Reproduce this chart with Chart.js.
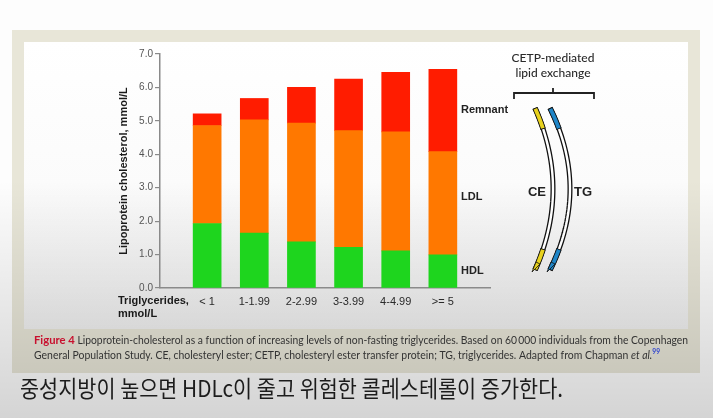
<!DOCTYPE html>
<html><head><meta charset="utf-8">
<script src="https://cdn.jsdelivr.net/npm/chart.js@4.4.1/dist/chart.umd.min.js"></script>
<style>
html,body{margin:0;padding:0;width:713px;height:418px;overflow:hidden;background:#fff}
canvas{display:block}
</style></head>
<body>
<canvas id="c" width="713" height="418"></canvas>
<script>
// ---- data ----
const categories = ['', '< 1', '1-1.99', '2-2.99', '3-3.99', '4-4.99', '>= 5', ''];
const hdlValues = [null, 1.93, 1.64, 1.38, 1.22, 1.11, 0.99, null];
const ldlValues = [null, 2.93, 3.39, 3.55, 3.49, 3.56, 3.09, null];
const remnantValues = [null, 0.35, 0.64, 1.07, 1.54, 1.78, 2.46, null];
const seriesNames = ['HDL', 'LDL', 'Remnant'];
const yAxisTitle = 'Lipoprotein cholesterol, mmol/L';
const xAxisTitle = ['Triglycerides,', 'mmol/L'];
const cetpTitle = ['CETP-mediated', 'lipid exchange'];
const arcLabels = ['CE', 'TG'];
const captionLine1 = ['Figure 4', ' Lipoprotein-cholesterol as a function of increasing levels of non-fasting triglycerides. Based on 60\u2009000 individuals from the Copenhagen'];
const captionLine2 = ['General Population Study. CE, cholesteryl ester; CETP, cholesteryl ester transfer protein; TG, triglycerides. Adapted from Chapman ', 'et al.', '99'];
const subtitle = '중성지방이 높으면 HDLc이 줄고 위험한 콜레스테롤이 증가한다.';

const colors = { HDL: '#1ed51e', LDL: '#ff7800', Remnant: '#ff1c00' };

function drawRuns(ctx, runs, x, y, targetW) {
  let total = 0;
  runs.forEach(r => { ctx.font = r.font; total += ctx.measureText(r.text).width; });
  const sx = targetW / total;
  ctx.save();
  ctx.translate(x, y);
  ctx.scale(sx, 1);
  let cx = 0;
  runs.forEach(r => {
    ctx.font = r.font; ctx.fillStyle = r.color;
    ctx.fillText(r.text, cx, r.dy || 0);
    cx += ctx.measureText(r.text).width;
  });
  ctx.restore();
}

function bez(p0, c, p1, t) {
  const u = 1 - t;
  return [u*u*p0[0] + 2*u*t*c[0] + t*t*p1[0], u*u*p0[1] + 2*u*t*c[1] + t*t*p1[1]];
}
function strokeBez(ctx, p0, c, p1, t0, t1, w, col) {
  ctx.beginPath();
  for (let i = 0; i <= 40; i++) {
    const t = t0 + (t1 - t0) * i / 40;
    const p = bez(p0, c, p1, t);
    if (i === 0) ctx.moveTo(p[0], p[1]); else ctx.lineTo(p[0], p[1]);
  }
  ctx.lineWidth = w; ctx.strokeStyle = col; ctx.lineCap = 'butt'; ctx.stroke();
}

const bgPlugin = {
  id: 'bg',
  beforeDraw(chart) {
    const ctx = chart.ctx;
    ctx.save();
    ctx.fillStyle = '#fdfdfd';
    ctx.fillRect(0, 0, 713, 418);
    ctx.fillStyle = '#e8e6d8';
    ctx.fillRect(12, 30, 688, 343);
    const g = ctx.createLinearGradient(0, 42, 0, 329);
    g.addColorStop(0, '#ffffff'); g.addColorStop(0.5, '#fbfbfb'); g.addColorStop(1, '#f0f0f0');
    ctx.fillStyle = g;
    ctx.fillRect(24, 42, 664, 287);
    const o = ctx.createLinearGradient(0, 180, 0, 418);
    o.addColorStop(0, 'rgba(0,0,0,0)'); o.addColorStop(1, 'rgba(0,0,0,0.16)');
    ctx.fillStyle = o;
    ctx.fillRect(0, 180, 713, 238);
    ctx.restore();
  },
  afterDraw(chart) {
    const ctx = chart.ctx;
    ctx.save();
    ctx.textBaseline = 'middle';
    // series labels at right
    ctx.fillStyle = '#222';
    ctx.font = 'bold 11px "Liberation Sans", Arial, sans-serif';
    ctx.textAlign = 'left';
    ctx.fillText(seriesNames[2], 461, 110);
    ctx.fillText(seriesNames[1], 461, 197);
    ctx.fillText(seriesNames[0], 461, 271);
    // x axis title
    ctx.fillStyle = '#1a1a1a';
    ctx.font = 'bold 11px "Liberation Sans", Arial, sans-serif';
    ctx.fillText(xAxisTitle[0], 118, 301);
    ctx.fillText(xAxisTitle[1], 118, 314);
    // CETP title
    ctx.textAlign = 'center';
    ctx.fillStyle = '#2a2a2a';
    ctx.font = '500 12px Lato, "Open Sans", sans-serif';
    ctx.fillText(cetpTitle[0], 553, 58);
    ctx.fillText(cetpTitle[1], 553, 73);
    // bracket
    ctx.beginPath();
    ctx.moveTo(514, 99); ctx.lineTo(514, 93); ctx.lineTo(594, 93); ctx.lineTo(594, 99);
    ctx.moveTo(553, 93); ctx.lineTo(553, 88);
    ctx.lineWidth = 1.8; ctx.strokeStyle = '#222'; ctx.stroke();
    // arcs
    const arcs = [
      { p0: [535, 108], c: [571, 189], p1: [535, 270], col: '#e8d21e' },
      { p0: [550, 108], c: [590, 189], p1: [550, 270], col: '#1f86c8' }
    ];
    arcs.forEach(a => {
      strokeBez(ctx, a.p0, a.c, a.p1, 0, 1, 5, '#111');
      strokeBez(ctx, a.p0, a.c, a.p1, 0.005, 0.995, 2.4, '#fff');
      strokeBez(ctx, a.p0, a.c, a.p1, 0, 0.13, 5.5, '#111');
      strokeBez(ctx, a.p0, a.c, a.p1, 0.005, 0.125, 3.8, a.col);
      strokeBez(ctx, a.p0, a.c, a.p1, 0.87, 1, 5.5, '#111');
      strokeBez(ctx, a.p0, a.c, a.p1, 0.875, 0.995, 3.8, a.col);
      const e = a.p1;
      ctx.beginPath();
      ctx.moveTo(e[0] - 3, e[1] + 2);
      ctx.lineTo(e[0] + 5, e[1] - 6);
      ctx.lineTo(e[0] + 1, e[1] - 8);
      ctx.closePath();
      ctx.fillStyle = a.col; ctx.fill();
      ctx.lineWidth = 0.8; ctx.strokeStyle = '#111'; ctx.stroke();
    });
    ctx.fillStyle = '#222';
    ctx.font = 'bold 13px "Liberation Sans", Arial, sans-serif';
    ctx.fillText(arcLabels[0], 537, 192);
    ctx.fillText(arcLabels[1], 583, 192);
    // captions
    ctx.textAlign = 'left';
    ctx.textBaseline = 'alphabetic';
    drawRuns(ctx, [
      { text: captionLine1[0], font: 'bold 12px Lato, sans-serif', color: '#c8102e' },
      { text: captionLine1[1], font: '11px Lato, sans-serif', color: '#333' }
    ], 34, 344, 654);
    drawRuns(ctx, [
      { text: captionLine2[0], font: '11px Lato, sans-serif', color: '#333' },
      { text: captionLine2[1], font: 'italic 11px Lato, sans-serif', color: '#333' },
      { text: captionLine2[2], font: 'bold 7px Lato, sans-serif', color: '#2a3fd0', dy: -5 }
    ], 34, 359, 626);
    // subtitle
    ctx.textBaseline = 'middle';
    ctx.fillStyle = '#1c1c1c';
    ctx.font = '23px "Noto Sans CJK KR", sans-serif';
    const w = ctx.measureText(subtitle).width;
    ctx.save();
    ctx.translate(20, 388);
    ctx.scale(543 / w, 1);
    ctx.fillText(subtitle, 0, 0);
    ctx.restore();
    ctx.restore();
  }
};

new Chart(document.getElementById('c'), {
  type: 'bar',
  data: {
    labels: categories,
    datasets: [
      { label: seriesNames[0], data: hdlValues, backgroundColor: colors.HDL },
      { label: seriesNames[1], data: ldlValues, backgroundColor: colors.LDL },
      { label: seriesNames[2], data: remnantValues, backgroundColor: colors.Remnant }
    ]
  },
  options: {
    responsive: false,
    animation: false,
    devicePixelRatio: 1,
    datasets: { bar: { barThickness: 28 } },
    layout: { padding: { left: 100, right: 223, top: 54, bottom: 110 } },
    plugins: { legend: { display: false }, tooltip: { enabled: false } },
    scales: {
      x: {
        stacked: true,
        offset: false,
        grid: { display: false, drawTicks: false },
        border: { color: '#8a8a8a', width: 1.5 },
        ticks: { color: '#2a2a2a', font: { family: '"Liberation Sans", Arial', size: 11 }, padding: 7, autoSkip: false, maxRotation: 0 },
        afterFit(s) { s.height = 20; }
      },
      y: {
        stacked: true,
        min: 0, max: 7,
        ticks: { stepSize: 1, callback: v => Number(v).toFixed(1), color: '#555', font: { family: '"Liberation Sans", Arial', size: 10 }, padding: 2 },
        grid: { drawOnChartArea: false, tickLength: 5, color: '#8a8a8a', lineWidth: 1.2 },
        border: { color: '#8a8a8a', width: 1.5 },
        title: { display: true, text: yAxisTitle, color: '#1a1a1a', font: { family: '"Liberation Sans", Arial', size: 11, weight: 'bold' }, padding: { top: 17, bottom: 0 } },
        afterFit(s) { s.width = 60; }
      }
    }
  },
  plugins: [bgPlugin]
});
</script>
</body></html>
